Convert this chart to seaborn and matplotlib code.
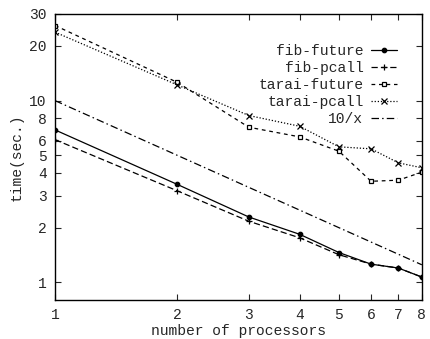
import matplotlib
matplotlib.use("Agg")
import matplotlib.pyplot as plt
import seaborn as sns
import pandas as pd

procs = [1, 2, 3, 4, 5, 6, 7, 8]
fib_future = [6.9, 3.46, 2.29, 1.84, 1.46, 1.26, 1.20, 1.07]
fib_pcall = [6.1, 3.19, 2.17, 1.76, 1.42, 1.26, 1.20, 1.07]
tarai_future = [25.9, 12.6, 7.14, 6.32, 5.27, 3.60, 3.65, 4.04]
tarai_pcall = [23.8, 12.2, 8.28, 7.23, 5.57, 5.43, 4.55, 4.27]
ref_10x = [10.0, 5.0, 3.333, 2.5, 2.0, 1.667, 1.429, 1.25]

series_names = ["fib-future", "fib-pcall", "tarai-future", "tarai-pcall", "10/x"]
series_vals = [fib_future, fib_pcall, tarai_future, tarai_pcall, ref_10x]
xtick_vals = [1, 2, 3, 4, 5, 6, 7, 8]
ytick_vals = [1, 2, 3, 4, 5, 6, 8, 10, 20, 30]

sns.set_style("ticks")
plt.rcParams['font.family'] = ['Liberation Mono', 'DejaVu Sans Mono']
plt.rcParams['font.size'] = 10.5

styles = {
    "fib-future": dict(marker="o", markersize=3.2, dashes=(None, None), mfc="black"),
    "fib-pcall": dict(marker="+", markersize=5, dashes=(5, 2.5), mfc="black"),
    "tarai-future": dict(marker="s", markersize=3.2, dashes=(3, 3), mfc="white"),
    "tarai-pcall": dict(marker="x", markersize=4, dashes=(1, 1.5), mfc="black"),
    "10/x": dict(marker=None, markersize=0, dashes=(6, 2.5, 1.2, 2.5), mfc="black"),
}

fig = plt.figure(figsize=(4.3, 3.39), dpi=100)
ax = fig.add_axes([0.128, 0.115, 0.853, 0.844])

for name, vals in zip(series_names, series_vals):
    df = pd.DataFrame({"procs": procs, "time": vals})
    st = styles[name]
    line_kw = dict(color="black", linewidth=0.9, label=name,
                   markeredgecolor="black", markerfacecolor=st["mfc"],
                   markeredgewidth=0.9)
    if st["marker"] is not None:
        line_kw["marker"] = st["marker"]
        line_kw["markersize"] = st["markersize"]
    sns.lineplot(data=df, x="procs", y="time", ax=ax, **line_kw)
    l = ax.get_lines()[-1]
    if st["dashes"][0] is not None:
        l.set_dashes(st["dashes"])

ax.set_xscale("log")
ax.set_yscale("log")
ax.set_xlim(1, 8)
ax.set_ylim(0.8, 30)
ax.set_xticks(xtick_vals)
ax.set_xticklabels([str(v) for v in xtick_vals])
ax.set_yticks(ytick_vals)
ax.set_yticklabels([str(v) for v in ytick_vals])
ax.minorticks_off()
ax.tick_params(direction="in", top=True, right=True, length=4, width=0.8,
               labelsize=10.5, pad=6)
for sp in ax.spines.values():
    sp.set_linewidth(1.0)
    sp.set_color("black")

ax.set_xlabel("number of processors", fontsize=10.5, labelpad=1)
ax.set_ylabel("time(sec.)", fontsize=10.5, labelpad=4)

leg = ax.legend(loc="upper right", bbox_to_anchor=(0.948, 0.915), frameon=False,
                markerfirst=False, handlelength=1.8, handletextpad=0.5,
                labelspacing=0.2, fontsize=10.5, borderaxespad=0)
for t in leg.get_texts():
    t.set_ha("right")

fig.savefig("out.png", dpi=100)
